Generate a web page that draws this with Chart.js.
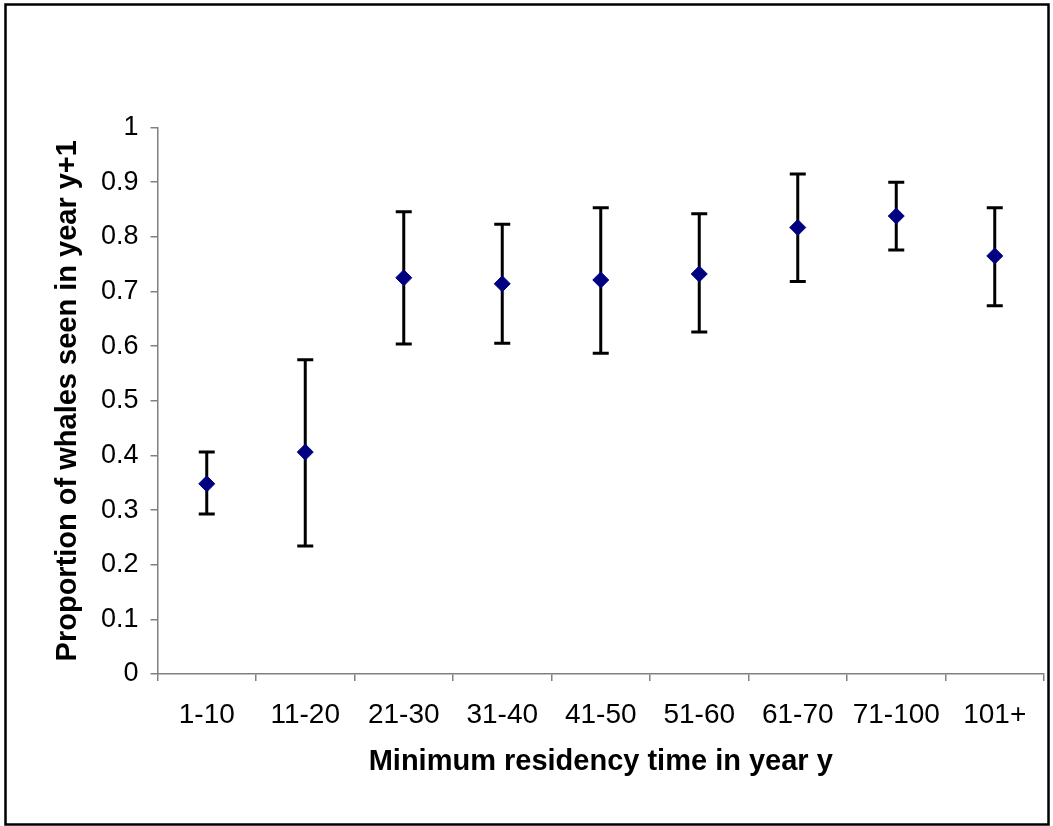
<!DOCTYPE html>
<html>
<head>
<meta charset="utf-8">
<title>Whale residency</title>
<script src="https://cdn.jsdelivr.net/npm/chart.js@4.4.1/dist/chart.umd.min.js"></script>
<style>
  html, body { margin: 0; padding: 0; background: #fff; }
  canvas { display: block; }
</style>
</head>
<body>
<canvas id="chart" width="1053" height="826"></canvas>
<script>
// residency classes (days seen in year y)
const categories = ["1-10", "11-20", "21-30", "31-40", "41-50", "51-60", "61-70", "71-100", "101+"];
// proportion re-sighted in year y+1
const proportion = [0.348, 0.406, 0.725, 0.714, 0.721, 0.732, 0.817, 0.838, 0.765];
const upperBound = [0.406, 0.575, 0.846, 0.823, 0.853, 0.842, 0.915, 0.900, 0.853];
const lowerBound = [0.293, 0.234, 0.604, 0.605, 0.587, 0.626, 0.718, 0.776, 0.674];

const FONT = "'Liberation Sans', Arial, sans-serif";
const AXIS_GREY = "#808080";

// vertical whiskers with caps, drawn under the markers
const errorBars = {
  id: "errorBars",
  beforeDatasetsDraw(chart) {
    const ctx = chart.ctx;
    const x = chart.scales.x, y = chart.scales.y;
    ctx.save();
    ctx.strokeStyle = "#000";
    ctx.lineWidth = 3;
    const cap = 8;
    proportion.forEach((v, i) => {
      const px = x.getPixelForValue(i);
      const top = y.getPixelForValue(upperBound[i]);
      const bot = y.getPixelForValue(lowerBound[i]);
      ctx.beginPath();
      ctx.moveTo(px, top);
      ctx.lineTo(px, bot);
      ctx.moveTo(px - cap, top);
      ctx.lineTo(px + cap, top);
      ctx.moveTo(px - cap, bot);
      ctx.lineTo(px + cap, bot);
      ctx.stroke();
    });
    ctx.restore();
  }
};

// outer frame around the whole chart
const frame = {
  id: "frame",
  afterDraw(chart) {
    const ctx = chart.ctx;
    ctx.save();
    ctx.strokeStyle = "#000";
    ctx.lineWidth = 2.5;
    ctx.strokeRect(5.5, 4.5, 1043, 820);
    ctx.restore();
  }
};

new Chart(document.getElementById("chart"), {
  type: "line",
  data: {
    labels: categories,
    datasets: [{
      data: proportion,
      showLine: false,
      pointStyle: "rectRot",
      pointRadius: 8,
      pointHoverRadius: 8,
      pointBackgroundColor: "#000080",
      pointBorderColor: "#000080",
      pointBorderWidth: 1
    }]
  },
  options: {
    responsive: false,
    animation: false,
    devicePixelRatio: 1,
    layout: { padding: { left: 5, right: 4.5, top: 127.5, bottom: 10 } },
    plugins: {
      legend: { display: false },
      tooltip: { enabled: false }
    },
    scales: {
      x: {
        type: "category",
        offset: true,
        afterFit(scale) { scale.height = 142; },
        grid: {
          display: true,
          offset: true,
          drawOnChartArea: false,
          tickLength: 7,
          color: AXIS_GREY,
          lineWidth: 1.5
        },
        border: { display: true, color: AXIS_GREY, width: 1.5 },
        ticks: {
          color: "#000",
          padding: 17,
          maxRotation: 0,
          autoSkip: false,
          font: { family: FONT, size: 28 }
        },
        title: {
          display: true,
          text: "Minimum residency time in year y",
          color: "#000",
          padding: { top: 0, bottom: 37 },
          font: { family: FONT, size: 29, weight: "bold" }
        }
      },
      y: {
        min: 0,
        max: 1,
        afterFit(scale) { scale.width = 152.5; },
        grid: {
          display: true,
          drawOnChartArea: false,
          tickLength: 7,
          color: AXIS_GREY,
          lineWidth: 1.5
        },
        border: { display: true, color: AXIS_GREY, width: 1.5 },
        ticks: {
          stepSize: 0.1,
          color: "#000",
          padding: 12,
          font: { family: FONT, size: 27 },
          callback: (v) => String(Math.round(v * 10) / 10)
        },
        title: {
          display: true,
          text: "Proportion of whales seen in year y+1",
          color: "#000",
          padding: { top: 46, bottom: 0 },
          font: { family: FONT, size: 29, weight: "bold" }
        }
      }
    }
  },
  plugins: [errorBars, frame]
});
</script>
</body>
</html>
